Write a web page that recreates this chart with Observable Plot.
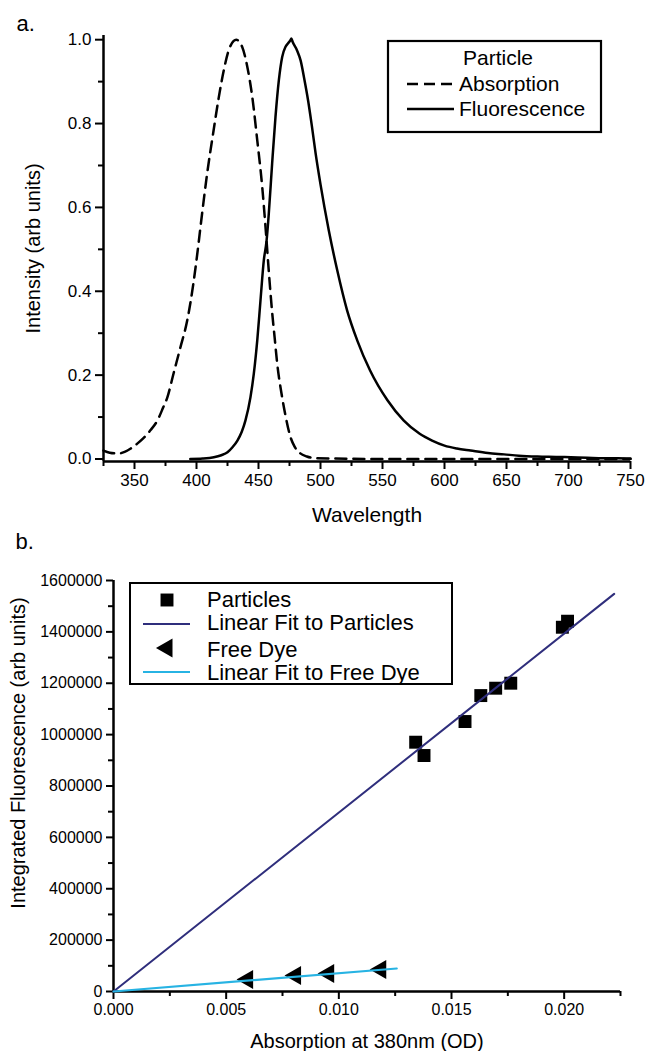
<!DOCTYPE html>
<html><head><meta charset="utf-8">
<script src="https://cdn.jsdelivr.net/npm/d3@7"></script>
<script src="https://cdn.jsdelivr.net/npm/@observablehq/plot@0.6"></script>
<style>
body{margin:0;background:#fff;}
#wrap{position:relative;width:647px;height:1051px;background:#fff;}
#a{position:absolute;left:0;top:0;}
#b{position:absolute;left:0;top:530px;}
svg{font-family:"Liberation Sans",Arial,sans-serif;}
#a svg g[aria-label$="tick label"] text{font-size:17px !important;}
#b svg g[aria-label$="tick label"] text{font-size:16px !important;}
</style></head><body><div id="wrap"><div id="a"></div><div id="b"></div></div>
<script>
// ---------- Panel a data ----------
const absWavelength = [325,330,337,342,347,352,357,363,368.5,373,376.5,381.5,387,392.5,397.5,401,403.2,408.6,413.8,418,422,426,430,432,436.8,441,445,449,453,456,458.5,461,463,465,469,472,475.5,479,483.5,489,495,510,550,600,650,700,750];
const absIntensity  = [0.020,0.015,0.013,0.017,0.025,0.036,0.049,0.069,0.092,0.122,0.147,0.204,0.266,0.330,0.419,0.498,0.553,0.681,0.784,0.863,0.927,0.975,0.997,1.000,0.983,0.935,0.863,0.760,0.649,0.540,0.440,0.350,0.290,0.230,0.148,0.100,0.055,0.030,0.014,0.006,0.002,0.001,0.0,0.0,0.0,0.0,0.0];
const fluWavelength = [395,405,414,420,425,429,433,436.5,439.5,443.5,446.2,449,451.6,454.3,456.5,458.3,461,463.7,466.4,469.1,471.8,474,475.8,476.5,477.5,481,484,487,490,493,496,500,506.7,513.5,521.5,529.6,540,554,567,580,590,600,610,621,635,648,660,675,690,702,715,728,740,750];
const fluIntensity  = [0.0,0.001,0.004,0.009,0.016,0.028,0.044,0.065,0.092,0.147,0.203,0.283,0.378,0.474,0.520,0.585,0.705,0.816,0.903,0.959,0.983,0.992,0.999,1.003,0.995,0.975,0.950,0.905,0.855,0.795,0.730,0.655,0.545,0.450,0.354,0.283,0.211,0.140,0.092,0.060,0.044,0.032,0.025,0.020,0.014,0.011,0.008,0.006,0.005,0.004,0.003,0.002,0.002,0.001];
const xTicksA = [350,400,450,500,550,600,650,700,750];
const xMinorA = [325,375,425,475,525,575,625,675,725];
const yTicksA = [0,0.2,0.4,0.6,0.8,1.0];
const yMinorA = [0.1,0.3,0.5,0.7,0.9];
const xDomainA = [325,750];
const yDomainA = [-0.006,1.01];

// ---------- Panel b data ----------
const particleAbs = [0.01341,0.01378,0.0156,0.0163,0.01696,0.01763,0.01992,0.02015];
const particleFluor = [970500,918700,1051000,1152000,1180700,1200200,1418000,1441500];
const dyeAbs = [0.00595,0.00808,0.00955,0.01186];
const dyeFluor = [46700,62300,70000,85600];
const particleFitAbs = [0,0.02222];
const particleFitFluor = [0,1548000];
const dyeFitAbs = [0,0.01257];
const dyeFitFluor = [0,89500];
const xTicksB = [0,0.005,0.010,0.015,0.020];
const xMinorB = [0.0025,0.0075,0.0125,0.0175,0.0225];
const yTicksB = [0,200000,400000,600000,800000,1000000,1200000,1400000,1600000];
const yMinorB = [100000,300000,500000,700000,900000,1100000,1300000,1500000];
const xDomainB = [0,0.0225];
const yDomainB = [0,1600000];

const NAVY = "#2f2e7c";
const CYAN = "#27b3e3";
const FONT = "Liberation Sans, Arial, sans-serif";

const absData = absWavelength.map((w,i)=>({w, v: absIntensity[i]}));
const fluData = fluWavelength.map((w,i)=>({w, v: fluIntensity[i]}));

const plotA = Plot.plot({
  width: 647, height: 530,
  marginLeft: 103, marginRight: 17, marginTop: 35, marginBottom: 69,
  x: {domain: xDomainA},
  y: {domain: yDomainA},
  style: {fontFamily: FONT, fontSize: "17px", color: "#000", background: "#fff"},
  marks: [
    Plot.axisX({ticks: xTicksA, tickSize: 8, tickPadding: 4, strokeWidth: 2, fontSize: 17, label: null, tickFormat: d3.format("d")}),
    Plot.axisX({ticks: xMinorA, tickSize: 5, strokeWidth: 2, label: null, tickFormat: () => ""}),
    Plot.axisY({ticks: yTicksA, tickSize: 8, tickPadding: 4, strokeWidth: 2, fontSize: 17, label: null, tickFormat: d3.format(".1f")}),
    Plot.axisY({ticks: yMinorA, tickSize: 5, strokeWidth: 2, label: null, tickFormat: () => ""}),
    Plot.ruleX([xDomainA[0]], {y1: yDomainA[0], y2: yDomainA[1], strokeWidth: 2.5}),
    Plot.ruleY([yDomainA[0]], {x1: xDomainA[0], x2: xDomainA[1], strokeWidth: 2.5}),
    Plot.line(absData, {x: "w", y: "v", stroke: "#000", strokeWidth: 2.5, strokeDasharray: "11,7", curve: "monotone-x"}),
    Plot.line(fluData, {x: "w", y: "v", stroke: "#000", strokeWidth: 2.5, curve: "monotone-x"}),
    Plot.text(["a."], {frameAnchor: "top-left", textAnchor: "start", lineAnchor: "bottom", dx: -87, dy: -5, fontSize: 22}),
    Plot.text(["Wavelength"], {frameAnchor: "bottom", textAnchor: "middle", lineAnchor: "bottom", dy: 60, fontSize: 21}),
    Plot.text(["Intensity (arb units)"], {frameAnchor: "left", rotate: -90, textAnchor: "middle", lineAnchor: "middle", dx: -70, fontSize: 20})
  ]
});
document.getElementById("a").appendChild(plotA);

const partData = particleAbs.map((x,i)=>({x, y: particleFluor[i]}));
const dyeData = dyeAbs.map((x,i)=>({x, y: dyeFluor[i]}));
const pFit = particleFitAbs.map((x,i)=>({x, y: particleFitFluor[i]}));
const dFit = dyeFitAbs.map((x,i)=>({x, y: dyeFitFluor[i]}));

const plotB = Plot.plot({
  width: 647, height: 521,
  marginLeft: 113, marginRight: 27, marginTop: 50, marginBottom: 60,
  x: {domain: xDomainB},
  y: {domain: yDomainB},
  style: {fontFamily: FONT, fontSize: "16px", color: "#000", background: "#fff"},
  marks: [
    Plot.axisX({ticks: xTicksB, tickSize: 8, tickPadding: 4, strokeWidth: 2, fontSize: 16, label: null, tickFormat: d3.format(".3f")}),
    Plot.axisX({ticks: xMinorB, tickSize: 5, strokeWidth: 2, label: null, tickFormat: () => ""}),
    Plot.axisY({ticks: yTicksB, tickSize: 7, tickPadding: 4, strokeWidth: 2, fontSize: 16, label: null, tickFormat: d3.format("d")}),
    Plot.axisY({ticks: yMinorB, tickSize: 5, strokeWidth: 2, label: null, tickFormat: () => ""}),
    Plot.ruleX([xDomainB[0]], {y1: yDomainB[0], y2: yDomainB[1], strokeWidth: 2.5}),
    Plot.ruleY([yDomainB[0]], {x1: xDomainB[0], x2: xDomainB[1], strokeWidth: 2.5}),
    Plot.dot(partData, {x: "x", y: "y", symbol: "square", r: 7.3, fill: "#000", stroke: "none"}),
    Plot.dot(dyeData, {x: "x", y: "y", symbol: "triangle", r: 7.1, fill: "#000", stroke: "none", rotate: -90}),
    Plot.line(pFit, {x: "x", y: "y", stroke: NAVY, strokeWidth: 2}),
    Plot.line(dFit, {x: "x", y: "y", stroke: CYAN, strokeWidth: 2.2}),
    Plot.text(["b."], {frameAnchor: "top-left", textAnchor: "start", lineAnchor: "bottom", dx: -98, dy: -32, fontSize: 22}),
    Plot.text(["Absorption at 380nm (OD)"], {frameAnchor: "bottom", textAnchor: "middle", lineAnchor: "bottom", dy: 56, fontSize: 20}),
    Plot.text(["Integrated Fluorescence (arb units)"], {frameAnchor: "left", rotate: -90, textAnchor: "middle", lineAnchor: "middle", dx: -95, dy: -33, fontSize: 20})
  ]
});
document.getElementById("b").appendChild(plotB);

// ---------- Legends ----------
function addText(g, x, y, s, anchor){
  return g.append("text").attr("x", x).attr("y", y).attr("text-anchor", anchor || "start").attr("fill", "#000").text(s);
}
function legendA(svgEl){
  const svg = d3.select(svgEl);
  const g = svg.append("g").attr("font-family", FONT).attr("font-size", 21).attr("text-anchor", "start");
  g.append("rect").attr("x",388).attr("y",41).attr("width",213).attr("height",91)
    .attr("fill","#fff").attr("stroke","#000").attr("stroke-width",2.2);
  addText(g, 498, 65, "Particle", "middle");
  g.append("line").attr("x1",407).attr("x2",454).attr("y1",84).attr("y2",84)
    .attr("stroke","#000").attr("stroke-width",2.5).attr("stroke-dasharray","11,6");
  addText(g, 459, 91, "Absorption");
  g.append("line").attr("x1",407).attr("x2",454).attr("y1",109).attr("y2",109)
    .attr("stroke","#000").attr("stroke-width",2.5);
  addText(g, 459, 116, "Fluorescence");
}
function legendB(svgEl){
  const svg = d3.select(svgEl);
  const g = svg.append("g").attr("font-family", FONT).attr("font-size", 22).attr("text-anchor", "start");
  g.append("rect").attr("x",130).attr("y",53).attr("width",322).attr("height",101)
    .attr("fill","#fff").attr("stroke","#000").attr("stroke-width",2);
  g.append("path").attr("transform","translate(167,70)").attr("d", d3.symbol(d3.symbolSquare, Math.PI*7.3*7.3)()).attr("fill","#000");
  addText(g, 207, 77, "Particles");
  g.append("line").attr("x1",143).attr("x2",190).attr("y1",94).attr("y2",94).attr("stroke",NAVY).attr("stroke-width",2);
  addText(g, 207, 100, "Linear Fit to Particles");
  g.append("path").attr("transform","translate(167,118) rotate(-90)").attr("d", d3.symbol(d3.symbolTriangle, Math.PI*7.1*7.1)()).attr("fill","#000");
  addText(g, 207, 127, "Free Dye");
  g.append("line").attr("x1",143).attr("x2",190).attr("y1",142).attr("y2",142).attr("stroke",CYAN).attr("stroke-width",2.2);
  addText(g, 207, 150, "Linear Fit to Free Dye");
}
legendA(plotA);
legendB(plotB);
</script>
</body></html>
